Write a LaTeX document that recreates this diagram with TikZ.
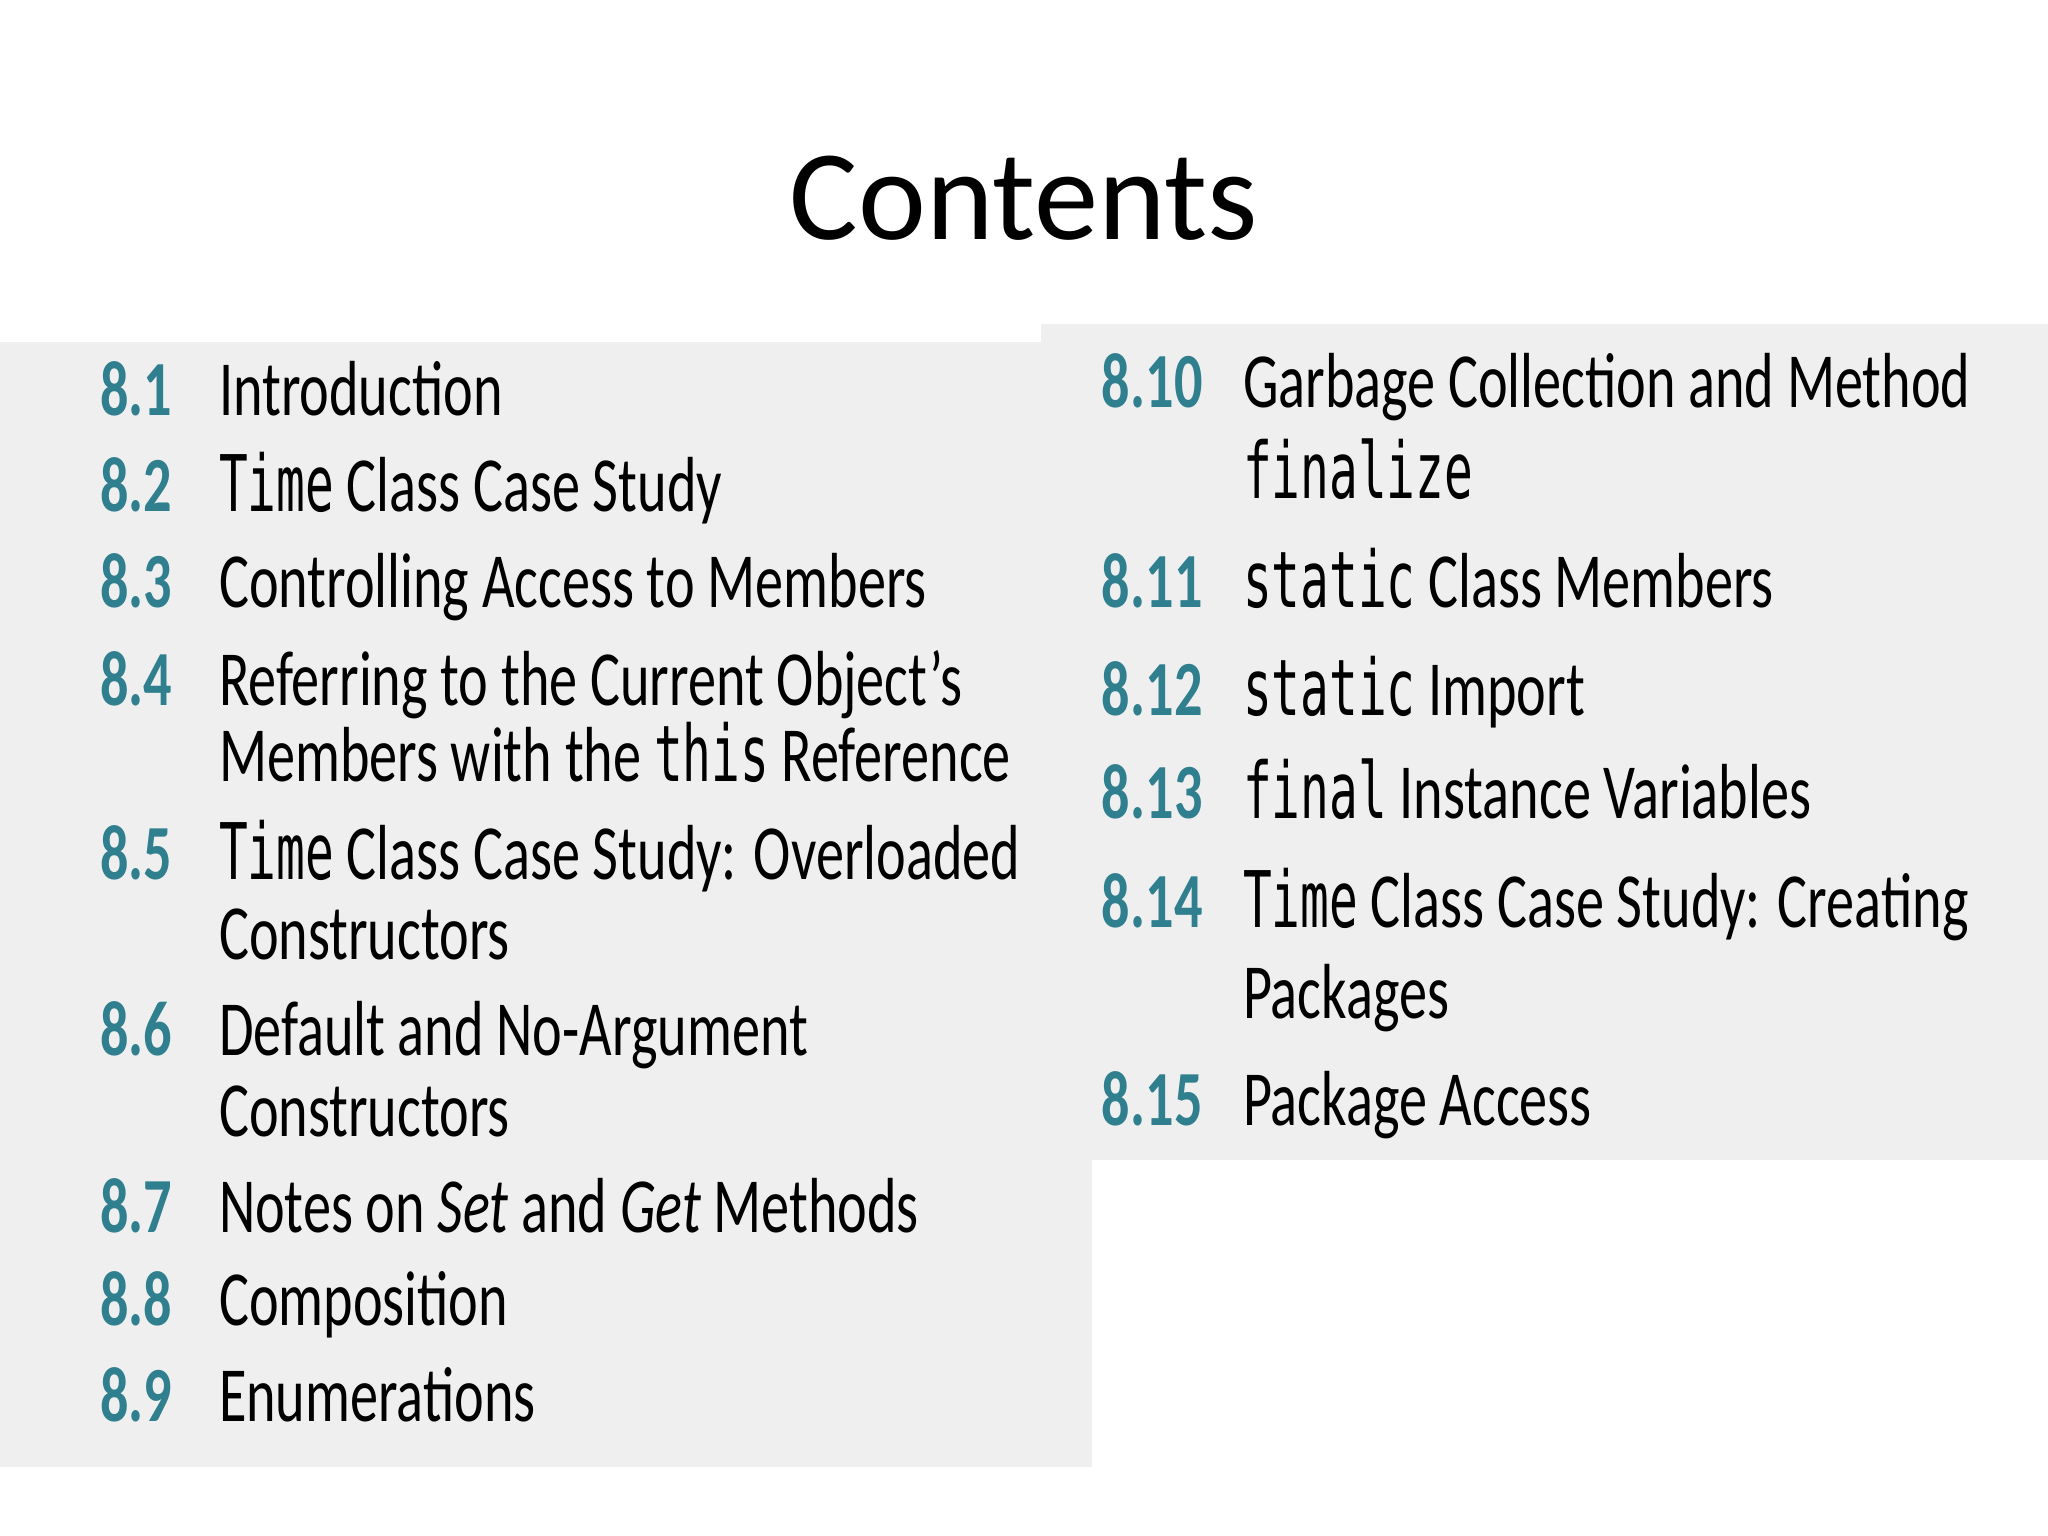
\documentclass[tikz,border=0pt]{standalone}
\usepackage{fontspec}
\setmainfont{Carlito}
\setmonofont{DejaVu Sans Mono}
\usepackage{graphicx}
\definecolor{panelgray}{HTML}{EFEFEF}
\definecolor{numteal}{HTML}{2F7F8E}
\newcommand{\nar}[1]{\scalebox{0.72}[1]{#1}}
\newcommand{\cd}[1]{{\ttfamily\scalebox{0.85}[1]{#1}}}
\begin{document}
\begin{tikzpicture}
    [x=0.01cm, y=-0.01cm,
    num/.style = {anchor=base west, inner sep=0pt, text=numteal, font=\fontsize{17}{20}\selectfont\bfseries},
    entry/.style = {anchor=base west, inner sep=0pt, font=\fontsize{17}{20}\selectfont}]

  \useasboundingbox (0,0) rectangle (1568,1176);
  \fill[panelgray] (0,262) rectangle (836,1123);
  \fill[panelgray] (797,248) rectangle (1568,888);

  \node[font=\fontsize{28}{33}\selectfont] (title) at (784,152) {Contents};

  % left column
  \node[num] (n1) at (76,318) {\nar{8.1}};
  \node[entry] (t1) at (167,318) {\nar{Introduction}};
  \node[num] (n2) at (76,392) {\nar{8.2}};
  \node[entry] (t2) at (167,392) {\nar{\cd{Time} Class Case Study}};
  \node[num] (n3) at (76,465) {\nar{8.3}};
  \node[entry] (t3) at (167,465) {\nar{Controlling Access to Members}};
  \node[num] (n4) at (76,540) {\nar{8.4}};
  \node[entry] (t4) at (167,540) {\nar{Referring to the Current Object's}};
  \node[entry] (t4b) at (167,598) {\nar{Members with the \cd{this} Reference}};
  \node[num] (n5) at (76,673) {\nar{8.5}};
  \node[entry] (t5) at (167,673) {\nar{\cd{Time} Class Case Study: Overloaded}};
  \node[entry] (t5b) at (167,735) {\nar{Constructors}};
  \node[num] (n6) at (76,808) {\nar{8.6}};
  \node[entry] (t6) at (167,808) {\nar{Default and No-Argument}};
  \node[entry] (t6b) at (167,870) {\nar{Constructors}};
  \node[num] (n7) at (76,944) {\nar{8.7}};
  \node[entry] (t7) at (167,944) {\nar{Notes on \textit{Set} and \textit{Get} Methods}};
  \node[num] (n8) at (76,1015) {\nar{8.8}};
  \node[entry] (t8) at (167,1015) {\nar{Composition}};
  \node[num] (n9) at (76,1088) {\nar{8.9}};
  \node[entry] (t9) at (167,1088) {\nar{Enumerations}};

  % right column
  \node[num] (n10) at (843,312) {\nar{8.10}};
  \node[entry] (t10) at (951,312) {\nar{Garbage Collection and Method}};
  \node[entry] (t10b) at (951,382) {\nar{\cd{finalize}}};
  \node[num] (n11) at (843,465) {\nar{8.11}};
  \node[entry] (t11) at (951,465) {\nar{\cd{static} Class Members}};
  \node[num] (n12) at (843,548) {\nar{8.12}};
  \node[entry] (t12) at (951,548) {\nar{\cd{static} Import}};
  \node[num] (n13) at (843,627) {\nar{8.13}};
  \node[entry] (t13) at (951,627) {\nar{\cd{final} Instance Variables}};
  \node[num] (n14) at (843,710) {\nar{8.14}};
  \node[entry] (t14) at (951,710) {\nar{\cd{Time} Class Case Study: Creating}};
  \node[entry] (t14b) at (951,780) {\nar{Packages}};
  \node[num] (n15) at (843,862) {\nar{8.15}};
  \node[entry] (t15) at (951,862) {\nar{Package Access}};

\end{tikzpicture}
\end{document}
